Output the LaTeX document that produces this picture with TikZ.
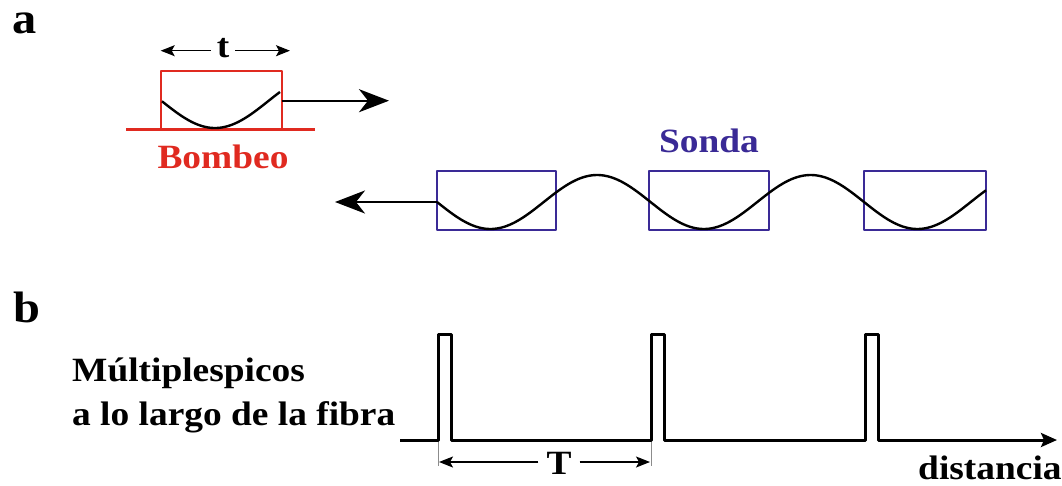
\documentclass[tikz,border=0pt]{standalone}
\usepackage{fontspec}
\setmainfont{Liberation Serif}[FakeStretch=1.1]
\usetikzlibrary{arrows.meta}
\definecolor{bombeo}{RGB}{224,42,32}
\definecolor{sonda}{RGB}{58,42,150}
\tikzset{
  lbl/.style={font=\fontsize{34}{40}\selectfont\bfseries, inner sep=0pt},
  panel/.style={font=\fontsize{44}{50}\selectfont\bfseries, inner sep=0pt},
  onda/.style={black, line width=2.4pt, smooth, samples=120, variable=\x},
  cota/.style={line width=1.3pt, -{Stealth[length=14pt,width=11pt,inset=3pt]}},
  pulso/.style={line width=3pt, -{Stealth[length=16pt,width=14pt,inset=3pt]}},
  flecha/.style={line width=2.4pt, -{Stealth[length=30pt,width=23pt,inset=9pt]}},
}
\begin{document}
\begin{tikzpicture}[x=1pt, y=-1pt, line join=round]
\useasboundingbox (0,0) rectangle (1062,485);
\def\per{213.5}\def\amp{27}
\path
(160.7,70.7) coordinate (B1)
(281.7,129.3) coordinate (B2)
(126,129.3) coordinate (L1)
(315,129.3) coordinate (L2)
(281.7,100.7) coordinate (pumpR)
(389,100.7) coordinate (pumpTip)
(160.7,50.7) coordinate (tL)
(290,50.7) coordinate (tR)
(437,202) coordinate (probeL)
(335,202) coordinate (probeTip)
(400,440) coordinate (b0)
(1057,440) coordinate (bEnd)
(439,462) coordinate (TL)
(650,462) coordinate (TR)
;
% etiquetas
\node[panel, anchor=base west] (panelA) at (12,33) {a};
\node[panel, anchor=base west] (panelB) at (13,322) {b};
\node[lbl, anchor=base] (tLbl) at (223,57) {t};
\node[lbl, bombeo, anchor=base] (bombeoLbl) at (223,168) {Bombeo};
\node[lbl, sonda, anchor=base] (sondaLbl) at (709,152) {Sonda};
\node[lbl, anchor=base west] (picosLbl) at (72,381) {Múltiplespicos};
\node[lbl, anchor=base west] (fibraLbl) at (72,425) {a lo largo de la fibra};
\node[lbl, anchor=base] (TLbl) at (559,474) {T};
\node[lbl, anchor=base west] (distLbl) at (918,479) {distancia};
% bombeo
\draw[bombeo, line width=2pt] (B1) rectangle (B2);
\draw[bombeo, line width=2.4pt] (L1) -- (L2);
\draw[onda, domain=162:280] plot ({\x},{101+\amp*cos((\x-215)/\per*360)});
\draw[flecha] (pumpR) -- (pumpTip);
\draw[cota] ([xshift=-6pt]tLbl.west |- tL) -- (tL);
\draw[cota] ([xshift=6pt]tLbl.east |- tR) -- (tR);
% sonda
\foreach \a/\b in {437/556,649/769,864/986}
  \draw[sonda, line width=2pt] (\a,171) rectangle (\b,230);
\draw[onda, domain=437:986] plot ({\x},{202+\amp*sin((\x-437)/\per*360)});
\draw[flecha] (probeL) -- (probeTip);
% tren de pulsos
\draw[pulso] (b0) \foreach \p in {438,651,865} {-- (\p,440) -- (\p,334) -- (\p+13,334) -- (\p+13,440)} -- (bEnd);
\draw[black!45, line width=0.6pt] (438,442) -- (438,466) (651,442) -- (651,466);
\draw[cota] ([xshift=-8pt]TLbl.west |- TL) -- (TL);
\draw[cota] ([xshift=8pt]TLbl.east |- TR) -- (TR);
\end{tikzpicture}
\end{document}
